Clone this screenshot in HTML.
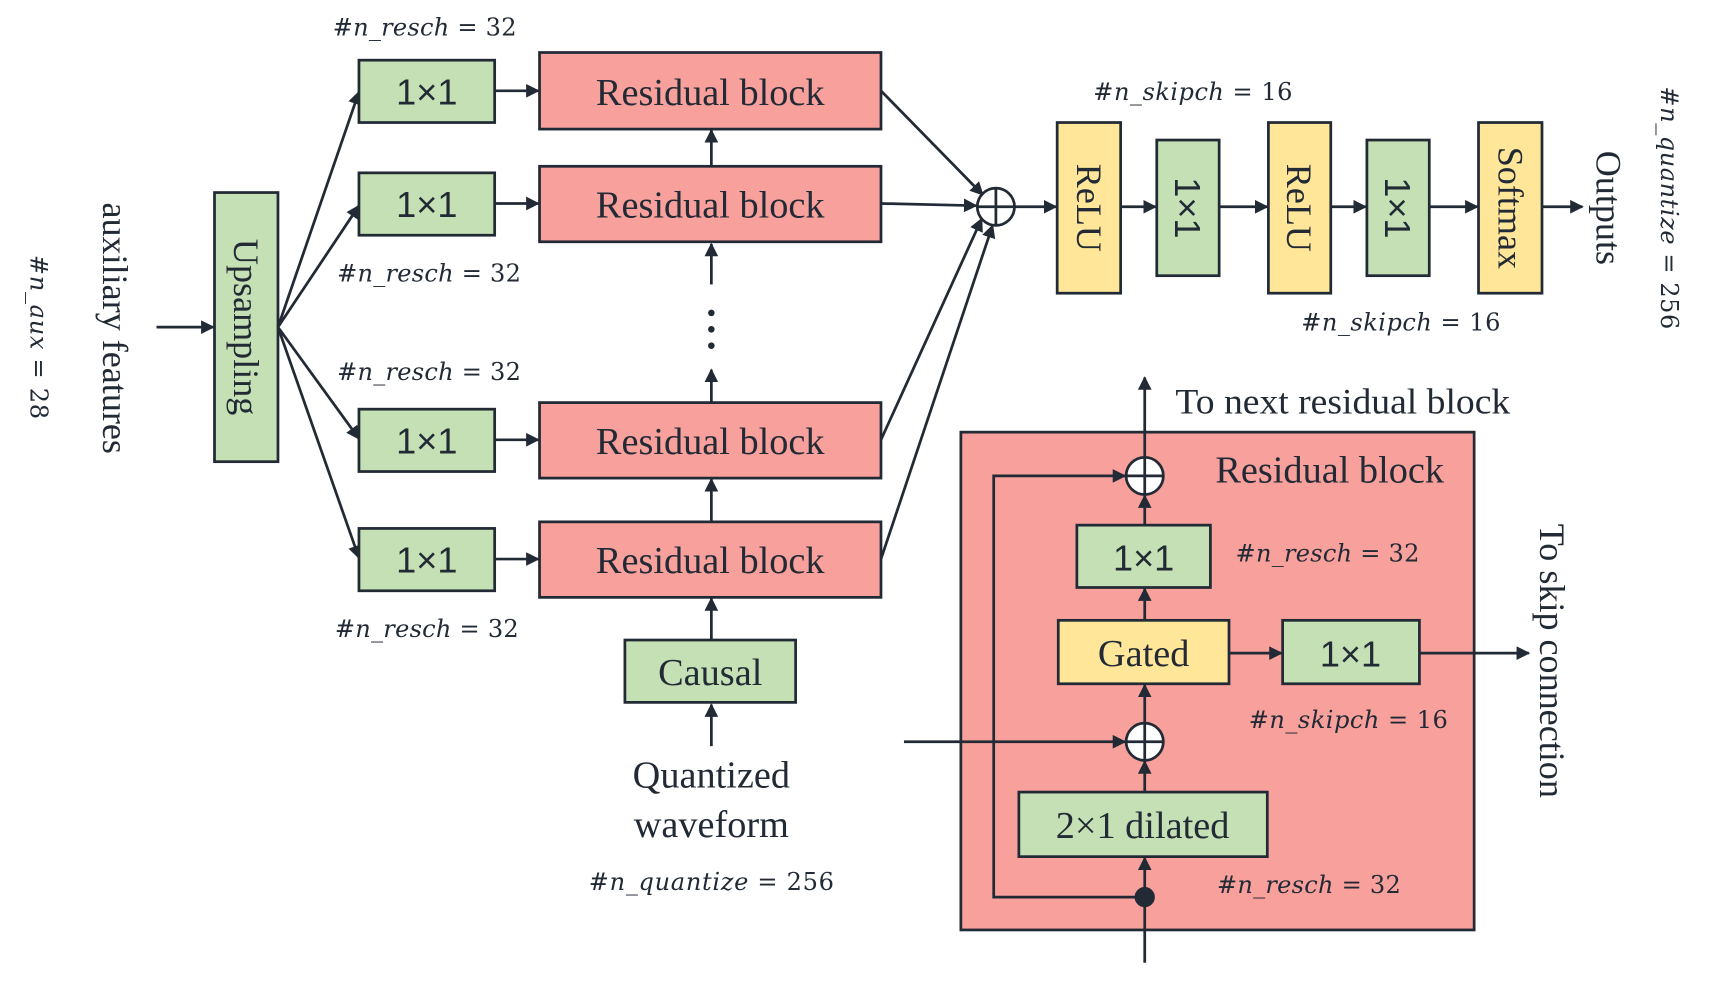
<!DOCTYPE html>
<html><head><meta charset="utf-8"><style>
html,body{margin:0;padding:0;background:#fff;}
svg{display:block;}
text{fill:#222a35;}
.s{font-family:"Liberation Serif",serif;}
.a{font-family:"Liberation Sans",sans-serif;}
.m{font-family:"DejaVu Serif","Liberation Serif",serif;font-size:22px;}
</style></head><body>
<svg width="1716" height="983" viewBox="0 0 1568 898.5" preserveAspectRatio="none" xmlns="http://www.w3.org/2000/svg">
<defs><marker id="ar" viewBox="0 0 10 10" refX="9" refY="5" markerWidth="5" markerHeight="5" orient="auto-start-reverse"><path d="M0,0L10,5L0,10z" fill="#222a35"/></marker></defs>
<g stroke="#222a35" stroke-width="2.5" fill="none">
<line x1="143" y1="299" x2="195" y2="299" marker-end="url(#ar)"/>
<rect x="196" y="176" width="58" height="246" fill="#c5e0b4"/>
<line x1="254" y1="299" x2="328" y2="84" marker-end="url(#ar)"/>
<line x1="254" y1="299" x2="328" y2="188" marker-end="url(#ar)"/>
<line x1="254" y1="299" x2="328" y2="401" marker-end="url(#ar)"/>
<line x1="254" y1="299" x2="328" y2="510" marker-end="url(#ar)"/>
<rect x="328" y="55" width="124" height="57" fill="#c5e0b4"/>
<rect x="328" y="158" width="124" height="57" fill="#c5e0b4"/>
<rect x="328" y="374" width="124" height="57" fill="#c5e0b4"/>
<rect x="328" y="483" width="124" height="57" fill="#c5e0b4"/>
<line x1="452" y1="83" x2="492" y2="83" marker-end="url(#ar)"/>
<line x1="452" y1="186" x2="492" y2="186" marker-end="url(#ar)"/>
<line x1="452" y1="402" x2="492" y2="402" marker-end="url(#ar)"/>
<line x1="452" y1="511" x2="492" y2="511" marker-end="url(#ar)"/>
<rect x="493" y="48" width="312" height="70" fill="#f8a09c"/>
<rect x="493" y="152" width="312" height="69" fill="#f8a09c"/>
<rect x="493" y="368" width="312" height="69" fill="#f8a09c"/>
<rect x="493" y="477" width="312" height="69" fill="#f8a09c"/>
<line x1="650" y1="152" x2="650" y2="119" marker-end="url(#ar)"/>
<line x1="650" y1="260" x2="650" y2="223" marker-end="url(#ar)"/>
<line x1="650" y1="367" x2="650" y2="338" marker-end="url(#ar)"/>
<line x1="650" y1="477" x2="650" y2="438" marker-end="url(#ar)"/>
<line x1="650" y1="585" x2="650" y2="547" marker-end="url(#ar)"/>
<line x1="650" y1="682" x2="650" y2="644" marker-end="url(#ar)"/>
<rect x="571" y="585" width="156" height="57" fill="#c5e0b4"/>
<line x1="805" y1="83" x2="898" y2="178" marker-end="url(#ar)"/>
<line x1="805" y1="186" x2="892" y2="188" marker-end="url(#ar)"/>
<line x1="805" y1="402" x2="897" y2="200" marker-end="url(#ar)"/>
<line x1="805" y1="511" x2="907" y2="206" marker-end="url(#ar)"/>
<circle cx="910" cy="189" r="17" fill="#fff"/>
<line x1="893" y1="189" x2="927" y2="189"/><line x1="910" y1="172" x2="910" y2="206"/>
<line x1="927" y1="189" x2="965" y2="189" marker-end="url(#ar)"/>
<rect x="966" y="112" width="58" height="156" fill="#ffe699"/>
<line x1="1024" y1="189" x2="1056" y2="189" marker-end="url(#ar)"/>
<rect x="1057" y="128" width="57" height="124" fill="#c5e0b4"/>
<line x1="1114" y1="189" x2="1158" y2="189" marker-end="url(#ar)"/>
<rect x="1159" y="112" width="57" height="156" fill="#ffe699"/>
<line x1="1216" y1="189" x2="1248" y2="189" marker-end="url(#ar)"/>
<rect x="1249" y="128" width="57" height="124" fill="#c5e0b4"/>
<line x1="1306" y1="189" x2="1350" y2="189" marker-end="url(#ar)"/>
<rect x="1351" y="112" width="58" height="156" fill="#ffe699"/>
<line x1="1409" y1="189" x2="1446" y2="189" marker-end="url(#ar)"/>
<rect x="878" y="395" width="469" height="455" fill="#f8a09c"/>
<line x1="1046" y1="418" x2="1046" y2="345" marker-end="url(#ar)"/>
<line x1="1046" y1="880" x2="1046" y2="784" marker-end="url(#ar)"/>
<polyline points="1046,820 908,820 908,435 1028,435" marker-end="url(#ar)"/>
<circle cx="1046" cy="820" r="8" fill="#222a35"/>
<line x1="1046" y1="480" x2="1046" y2="453" marker-end="url(#ar)"/>
<rect x="984" y="480" width="122" height="57" fill="#c5e0b4"/>
<line x1="1046" y1="567" x2="1046" y2="538" marker-end="url(#ar)"/>
<rect x="967" y="567" width="156" height="58" fill="#ffe699"/>
<line x1="1123" y1="597" x2="1171" y2="597" marker-end="url(#ar)"/>
<rect x="1172" y="567" width="125" height="58" fill="#c5e0b4"/>
<line x1="1297" y1="597" x2="1397" y2="597" marker-end="url(#ar)"/>
<line x1="1046" y1="661" x2="1046" y2="626" marker-end="url(#ar)"/>
<line x1="1046" y1="724" x2="1046" y2="696" marker-end="url(#ar)"/>
<line x1="826" y1="678" x2="1028" y2="678" marker-end="url(#ar)"/>
<rect x="931" y="724" width="227" height="59" fill="#c5e0b4"/>
<circle cx="1046" cy="435" r="17" fill="#fff"/>
<line x1="1029" y1="435" x2="1063" y2="435"/><line x1="1046" y1="418" x2="1046" y2="452"/>
<circle cx="1046" cy="678" r="17" fill="#fff"/>
<line x1="1029" y1="678" x2="1063" y2="678"/><line x1="1046" y1="661" x2="1046" y2="695"/>
</g>
<g fill="#222a35"><circle cx="650" cy="286" r="3"/><circle cx="650" cy="301" r="3"/><circle cx="650" cy="316" r="3"/></g>
<g text-anchor="middle" dominant-baseline="central">
<text class="a" font-size="33" x="390" y="84">1×1</text>
<text class="a" font-size="33" x="390" y="187">1×1</text>
<text class="a" font-size="33" x="390" y="403">1×1</text>
<text class="a" font-size="33" x="390" y="512">1×1</text>
<text class="s" font-size="35" x="649" y="85">Residual block</text>
<text class="s" font-size="35" x="649" y="188">Residual block</text>
<text class="s" font-size="35" x="649" y="404">Residual block</text>
<text class="s" font-size="35" x="649" y="513">Residual block</text>
<text class="s" font-size="35" x="649" y="615">Causal</text>
<text class="s" font-size="35" x="650" y="709">Quantized</text>
<text class="s" font-size="35" x="650" y="754">waveform</text>
<text class="s" font-size="33" x="1227" y="367" textLength="306" lengthAdjust="spacingAndGlyphs">To next residual block</text>
<text class="s" font-size="35" x="1215" y="430">Residual block</text>
<text class="a" font-size="33" x="1045" y="510">1×1</text>
<text class="s" font-size="35" x="1045" y="598">Gated</text>
<text class="a" font-size="33" x="1234" y="598">1×1</text>
<text class="s" font-size="35" x="1044" y="755">2×1 dilated</text>
<text class="s" font-size="33" transform="translate(225,299) rotate(90)">Upsampling</text>
<text class="s" font-size="33" transform="translate(105,300) rotate(90)">auxiliary features</text>
<text class="s" font-size="33" transform="translate(995,190) rotate(90)">ReLU</text>
<text class="a" font-size="33" transform="translate(1085,190) rotate(90)">1×1</text>
<text class="s" font-size="33" transform="translate(1187,190) rotate(90)">ReLU</text>
<text class="a" font-size="33" transform="translate(1277,190) rotate(90)">1×1</text>
<text class="s" font-size="33" transform="translate(1380,190) rotate(90)">Softmax</text>
<text class="s" font-size="33" transform="translate(1470,190) rotate(90)">Outputs</text>
<text class="s" font-size="33" transform="translate(1418,604) rotate(90)">To skip connection</text>
<text class="m" transform="translate(35,308) rotate(90)" textLength="150"><tspan font-style="italic">#n_aux</tspan> = 28</text>
<text class="m" transform="translate(1525,190) rotate(90)" textLength="222"><tspan font-style="italic">#n_quantize</tspan> = 256</text>
<text class="m" x="388" y="25" textLength="168"><tspan font-style="italic">#n_resch</tspan> = 32</text>
<text class="m" x="392" y="250" textLength="168"><tspan font-style="italic">#n_resch</tspan> = 32</text>
<text class="m" x="392" y="340" textLength="168"><tspan font-style="italic">#n_resch</tspan> = 32</text>
<text class="m" x="390" y="575" textLength="168"><tspan font-style="italic">#n_resch</tspan> = 32</text>
<text class="m" x="650" y="806" textLength="224"><tspan font-style="italic">#n_quantize</tspan> = 256</text>
<text class="m" x="1090" y="84" textLength="182"><tspan font-style="italic">#n_skipch</tspan> = 16</text>
<text class="m" x="1280" y="295" textLength="182"><tspan font-style="italic">#n_skipch</tspan> = 16</text>
<text class="m" x="1213" y="506" textLength="168"><tspan font-style="italic">#n_resch</tspan> = 32</text>
<text class="m" x="1232" y="658" textLength="182"><tspan font-style="italic">#n_skipch</tspan> = 16</text>
<text class="m" x="1196" y="809" textLength="168"><tspan font-style="italic">#n_resch</tspan> = 32</text>
</g>
</svg>
</body></html>
